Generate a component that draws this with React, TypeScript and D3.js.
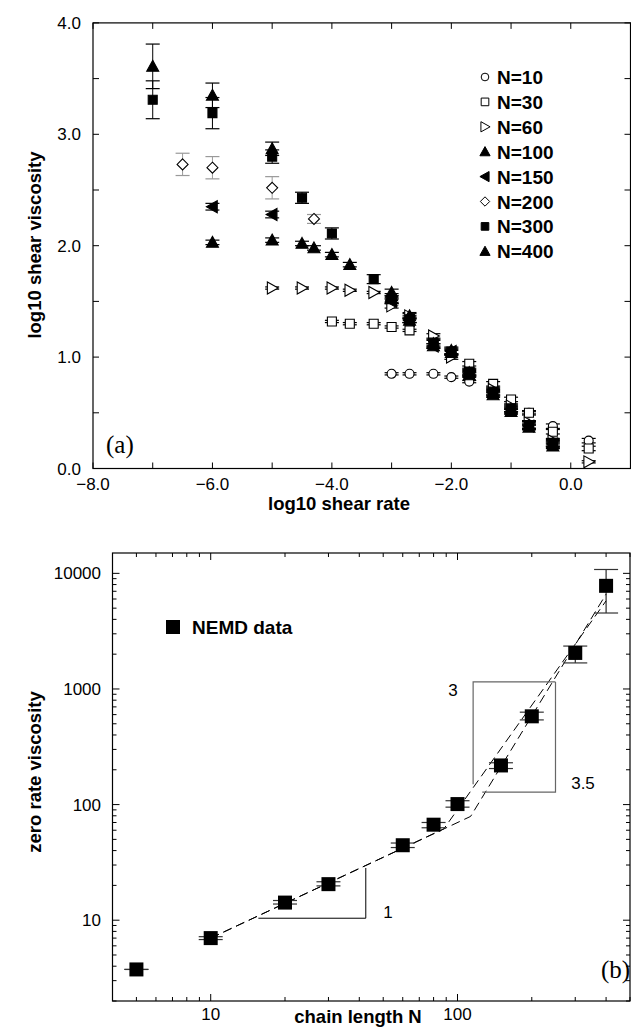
import React, { useEffect, useRef } from 'react';
import * as d3 from 'd3';

// panel (a): [log10 shear rate, log10 shear viscosity, error]
const n10 = [[-3.0, 0.85, 0.01], [-2.7, 0.85, 0.01], [-2.3, 0.85, 0.01], [-2.0, 0.82, 0.01], [-1.7, 0.78, 0.01], [-0.7, 0.50, 0.01], [-0.3, 0.38, 0.02], [0.3, 0.25, 0.02]];
const n30 = [[-4.0, 1.32, 0.01], [-3.7, 1.30, 0.01], [-3.3, 1.30, 0.01], [-3.0, 1.27, 0.01], [-2.7, 1.24, 0.01], [-1.7, 0.94, 0.02], [-1.3, 0.76, 0.02], [-1.0, 0.62, 0.02], [-0.7, 0.50, 0.02], [-0.3, 0.33, 0.02], [0.3, 0.18, 0.02]];
const n60 = [[-5.0, 1.62, 0.01], [-4.5, 1.62, 0.01], [-4.0, 1.62, 0.01], [-3.7, 1.60, 0.01], [-3.3, 1.58, 0.01], [-3.0, 1.46, 0.02], [-2.7, 1.37, 0.02], [-2.3, 1.19, 0.02], [-2.0, 1.00, 0.02], [-1.7, 0.86, 0.02], [-1.3, 0.71, 0.02], [-1.0, 0.56, 0.02], [-0.7, 0.41, 0.02], [-0.3, 0.25, 0.02], [0.3, 0.06, 0.01]];
const n100 = [[-6.0, 2.03, 0.02], [-5.0, 2.05, 0.02], [-4.5, 2.02, 0.02], [-4.3, 1.98, 0.02], [-4.0, 1.92, 0.02], [-3.7, 1.83, 0.02], [-3.0, 1.55, 0.02], [-2.7, 1.33, 0.02], [-2.3, 1.10, 0.02], [-2.0, 1.04, 0.02], [-1.7, 0.84, 0.02], [-1.3, 0.66, 0.02], [-1.0, 0.51, 0.02], [-0.7, 0.37, 0.02], [-0.3, 0.20, 0.02]];
const n150 = [[-6.0, 2.35, 0.03], [-5.0, 2.28, 0.03], [-3.0, 1.50, 0.02], [-2.7, 1.33, 0.02], [-2.3, 1.10, 0.02], [-2.0, 1.05, 0.02], [-1.7, 0.85, 0.02], [-1.3, 0.68, 0.02], [-1.0, 0.53, 0.02], [-0.7, 0.38, 0.02], [-0.3, 0.22, 0.02]];
const n200 = [[-6.5, 2.73, 0.10], [-6.0, 2.70, 0.10], [-5.0, 2.52, 0.10], [-4.3, 2.24, 0.04]];
const n300 = [[-7.0, 3.31, 0.17], [-6.0, 3.19, 0.14], [-5.0, 2.80, 0.06], [-4.5, 2.43, 0.05], [-4.0, 2.11, 0.05], [-3.3, 1.70, 0.04], [-3.0, 1.52, 0.03], [-2.7, 1.34, 0.03], [-2.3, 1.13, 0.03], [-2.0, 1.05, 0.03], [-1.7, 0.87, 0.03], [-1.3, 0.69, 0.03], [-1.0, 0.54, 0.03], [-0.7, 0.39, 0.03], [-0.3, 0.23, 0.03]];
const n400 = [[-7.0, 3.61, 0.20], [-6.0, 3.35, 0.11], [-5.0, 2.87, 0.06], [-3.0, 1.58, 0.03], [-2.7, 1.37, 0.03], [-2.3, 1.12, 0.03], [-2.0, 1.06, 0.03], [-1.7, 0.86, 0.03], [-1.3, 0.68, 0.03], [-1.0, 0.53, 0.03], [-0.7, 0.39, 0.03], [-0.3, 0.22, 0.03]];

const seriesData = [n10, n30, n60, n100, n150, n200, n300, n400];
const seriesNames = ['N=10', 'N=30', 'N=60', 'N=100', 'N=150', 'N=200', 'N=300', 'N=400'];
const seriesMarks = ['circle', 'square', 'triRight', 'triUp', 'triLeft', 'diamond', 'square', 'triUp'];
const seriesFilled = [false, false, false, true, true, false, true, true];
const seriesBarColor = ['#000', '#000', '#000', '#000', '#000', '#999', '#000', '#000'];

const rateTicks = [-8, -6, -4, -2, 0];
const viscTicks = [0, 1, 2, 3, 4];

// panel (b): zero rate viscosity vs chain length
const chainN = [5, 10, 20, 30, 60, 80, 100, 150, 200, 300, 400];
const zeroVisc = [3.75, 7.0, 14.2, 20.5, 44.5, 67, 101, 218, 580, 2050, 7800];
const viscLow = [3.75, 6.8, 13.8, 19.8, 42.5, 63, 95, 205, 540, 1680, 4540];
const viscHigh = [3.75, 7.2, 14.8, 21.5, 46.5, 70, 108, 230, 630, 2350, 10800];
const fitSlope3 = [[10, 7.0], [88, 61.6], [400, 5785]];
const fitSlope35 = [[10, 7.0], [113, 79], [400, 6610]];
const triSlope1 = [[15.6, 10.4], [42.5, 10.4], [42.5, 28.3]];
const triSlope3 = [[115.7, 150], [115.7, 1150], [249.5, 1150]];
const triSlope35 = [[126, 128], [249.5, 128], [249.5, 1150]];

const sans = 'Liberation Sans, Arial, Helvetica, sans-serif';
const serif = 'Liberation Serif, Times New Roman, serif';
const tickSize = 17;
const titleSize = 18.5;
const legendSize = 19;

function markerPath(type, cx, cy, s) {
  if (type === 'square') return `M${cx - s},${cy - s}h${2 * s}v${2 * s}h${-2 * s}Z`;
  if (type === 'triUp') return `M${cx},${cy - s}L${cx + s},${cy + s * 0.8}L${cx - s},${cy + s * 0.8}Z`;
  if (type === 'triRight') return `M${cx + s},${cy}L${cx - s * 0.8},${cy - s}L${cx - s * 0.8},${cy + s}Z`;
  if (type === 'triLeft') return `M${cx - s},${cy}L${cx + s * 0.8},${cy - s}L${cx + s * 0.8},${cy + s}Z`;
  if (type === 'diamond') return `M${cx},${cy - s}L${cx + s},${cy}L${cx},${cy + s}L${cx - s},${cy}Z`;
  return `M${cx - s},${cy}a${s},${s} 0 1,0 ${2 * s},0a${s},${s} 0 1,0 ${-2 * s},0Z`;
}

const markSize = { circle: 4.5, square: 4.5, triRight: 6, triUp: 6, triLeft: 6, diamond: 5.5 };

const App = () => {
  const svgRef = useRef();

  useEffect(() => {
    const svg = d3.select(svgRef.current);
    svg.selectAll('*').remove();

    // ---------- panel (a) ----------
    const xa = d3.scaleLinear().domain([-8, 1]).range([93, 630.5]);
    const ya = d3.scaleLinear().domain([0, 4]).range([468.5, 22.9]);
    const ga = svg.append('g');

    ga.append('rect')
      .attr('x', xa(-8)).attr('y', ya(4))
      .attr('width', xa(1) - xa(-8)).attr('height', ya(0) - ya(4))
      .attr('fill', 'none').attr('stroke', '#000').attr('stroke-width', 1.2);

    d3.range(-8, 2, 1).forEach(v => {
      ga.append('line').attr('x1', xa(v)).attr('x2', xa(v)).attr('y1', ya(0)).attr('y2', ya(0) - 6).attr('stroke', '#000');
      ga.append('line').attr('x1', xa(v)).attr('x2', xa(v)).attr('y1', ya(4)).attr('y2', ya(4) + 6).attr('stroke', '#000');
    });
    d3.range(0, 4.01, 0.5).forEach(v => {
      ga.append('line').attr('x1', xa(-8)).attr('x2', xa(-8) + 6).attr('y1', ya(v)).attr('y2', ya(v)).attr('stroke', '#000');
      ga.append('line').attr('x1', xa(1)).attr('x2', xa(1) - 6).attr('y1', ya(v)).attr('y2', ya(v)).attr('stroke', '#000');
    });

    rateTicks.forEach(v => {
      ga.append('text').attr('x', xa(v)).attr('y', 490)
        .attr('text-anchor', 'middle').attr('font-family', sans).attr('font-size', tickSize)
        .text(d3.format('.1f')(v).replace('-', '\u2212'));
    });
    viscTicks.forEach(v => {
      ga.append('text').attr('x', 81).attr('y', ya(v) + 6)
        .attr('text-anchor', 'end').attr('font-family', sans).attr('font-size', tickSize)
        .text(d3.format('.1f')(v));
    });

    ga.append('text').attr('x', 339).attr('y', 510)
      .attr('text-anchor', 'middle').attr('font-family', sans).attr('font-size', titleSize).attr('font-weight', 'bold')
      .text('log10 shear rate');
    ga.append('text').attr('transform', 'translate(35,245) rotate(-90)').attr('dy', '0.35em')
      .attr('text-anchor', 'middle').attr('font-family', sans).attr('font-size', titleSize).attr('font-weight', 'bold')
      .text('log10 shear viscosity');
    ga.append('text').attr('x', 106).attr('y', 453)
      .attr('font-family', serif).attr('font-size', 25).text('(a)');

    // error bars first, markers on top
    seriesData.forEach((pts, i) => {
      pts.forEach(([x, y, e]) => {
        const cx = xa(x);
        ga.append('line').attr('x1', cx).attr('x2', cx).attr('y1', ya(y - e)).attr('y2', ya(y + e))
          .attr('stroke', seriesBarColor[i]).attr('stroke-width', 1);
        [y - e, y + e].forEach(v => {
          ga.append('line').attr('x1', cx - 7).attr('x2', cx + 7).attr('y1', ya(v)).attr('y2', ya(v))
            .attr('stroke', seriesBarColor[i]).attr('stroke-width', 1.2);
        });
      });
    });
    seriesData.forEach((pts, i) => {
      const type = seriesMarks[i];
      ga.selectAll(null).data(pts).enter().append('path')
        .attr('d', d => markerPath(type, xa(d[0]), ya(d[1]), markSize[type]))
        .attr('fill', seriesFilled[i] ? '#000' : '#fff')
        .attr('stroke', '#000').attr('stroke-width', 1.1);
    });

    // legend
    seriesNames.forEach((name, i) => {
      const cy = 77 + i * 24.9;
      const type = seriesMarks[i];
      ga.append('path').attr('d', markerPath(type, 485, cy, markSize[type] * 0.85))
        .attr('fill', seriesFilled[i] ? '#000' : '#fff').attr('stroke', '#000').attr('stroke-width', 1);
      ga.append('text').attr('x', 497).attr('y', cy + 7)
        .attr('font-family', sans).attr('font-size', legendSize).attr('font-weight', 'bold').text(name);
    });

    // ---------- panel (b) ----------
    const xb = d3.scaleLog().domain([4, 500]).range([112.5, 630]);
    const yb = d3.scaleLog().domain([2, 15000]).range([1001, 553]);
    const gb = svg.append('g');

    gb.append('rect')
      .attr('x', xb(4)).attr('y', yb(15000))
      .attr('width', xb(500) - xb(4)).attr('height', yb(2) - yb(15000))
      .attr('fill', 'none').attr('stroke', '#000').attr('stroke-width', 1.2);

    const isMajor = v => Math.abs(Math.log10(v) - Math.round(Math.log10(v))) < 1e-6;
    xb.ticks().forEach(v => {
      const len = isMajor(v) ? 7 : 4;
      gb.append('line').attr('x1', xb(v)).attr('x2', xb(v)).attr('y1', yb(2)).attr('y2', yb(2) - len).attr('stroke', '#000');
      gb.append('line').attr('x1', xb(v)).attr('x2', xb(v)).attr('y1', yb(15000)).attr('y2', yb(15000) + len).attr('stroke', '#000');
    });
    yb.ticks().forEach(v => {
      const len = isMajor(v) ? 7 : 4;
      gb.append('line').attr('x1', xb(4)).attr('x2', xb(4) + len).attr('y1', yb(v)).attr('y2', yb(v)).attr('stroke', '#000');
      gb.append('line').attr('x1', xb(500)).attr('x2', xb(500) - len).attr('y1', yb(v)).attr('y2', yb(v)).attr('stroke', '#000');
    });

    [10, 100].forEach(v => {
      gb.append('text').attr('x', xb(v)).attr('y', 1020)
        .attr('text-anchor', 'middle').attr('font-family', sans).attr('font-size', tickSize).text(String(v));
    });
    [10, 100, 1000, 10000].forEach(v => {
      gb.append('text').attr('x', 101).attr('y', yb(v) + 6)
        .attr('text-anchor', 'end').attr('font-family', sans).attr('font-size', tickSize).text(String(v));
    });

    gb.append('text').attr('x', 358).attr('y', 1023)
      .attr('text-anchor', 'middle').attr('font-family', sans).attr('font-size', titleSize).attr('font-weight', 'bold')
      .text('chain length N');
    gb.append('text').attr('transform', 'translate(35,772) rotate(-90)').attr('dy', '0.35em')
      .attr('text-anchor', 'middle').attr('font-family', sans).attr('font-size', titleSize).attr('font-weight', 'bold')
      .text('zero rate viscosity');
    gb.append('text').attr('x', 601).attr('y', 978)
      .attr('font-family', serif).attr('font-size', 25).text('(b)');

    const line = d3.line().x(d => xb(d[0])).y(d => yb(d[1]));
    [fitSlope3, fitSlope35].forEach(f => {
      gb.append('path').attr('d', line(f)).attr('fill', 'none')
        .attr('stroke', '#000').attr('stroke-width', 1).attr('stroke-dasharray', '9,5');
    });
    gb.append('path').attr('d', line(triSlope1)).attr('fill', 'none').attr('stroke', '#000').attr('stroke-width', 1);
    [triSlope3, triSlope35].forEach(t => {
      gb.append('path').attr('d', line(t)).attr('fill', 'none').attr('stroke', '#666').attr('stroke-width', 1.2);
    });
    gb.append('text').attr('x', 388).attr('y', 918).attr('text-anchor', 'middle')
      .attr('font-family', sans).attr('font-size', tickSize).text('1');
    gb.append('text').attr('x', 453).attr('y', 696).attr('text-anchor', 'middle')
      .attr('font-family', sans).attr('font-size', tickSize).text('3');
    gb.append('text').attr('x', 583).attr('y', 789).attr('text-anchor', 'middle')
      .attr('font-family', sans).attr('font-size', tickSize).text('3.5');

    chainN.forEach((n, i) => {
      const cx = xb(n);
      gb.append('line').attr('x1', cx).attr('x2', cx).attr('y1', yb(viscLow[i])).attr('y2', yb(viscHigh[i]))
        .attr('stroke', '#000').attr('stroke-width', 1);
      [viscLow[i], viscHigh[i]].forEach(v => {
        gb.append('line').attr('x1', cx - 12).attr('x2', cx + 12).attr('y1', yb(v)).attr('y2', yb(v))
          .attr('stroke', '#333').attr('stroke-width', 1.2);
      });
    });
    gb.selectAll(null).data(chainN).enter().append('rect')
      .attr('x', d => xb(d) - 7).attr('y', (d, i) => yb(zeroVisc[i]) - 7)
      .attr('width', 14).attr('height', 14).attr('fill', '#000');

    gb.append('rect').attr('x', 166).attr('y', 620).attr('width', 14).attr('height', 14).attr('fill', '#000');
    gb.append('text').attr('x', 192).attr('y', 634)
      .attr('font-family', sans).attr('font-size', legendSize).attr('font-weight', 'bold').text('NEMD data');
  }, []);

  return (
    <svg ref={svgRef} width={631} height={1029}
      style={{ position: 'absolute', left: 0, top: 0, display: 'block', background: '#fff' }}></svg>
  );
};

export default App;
